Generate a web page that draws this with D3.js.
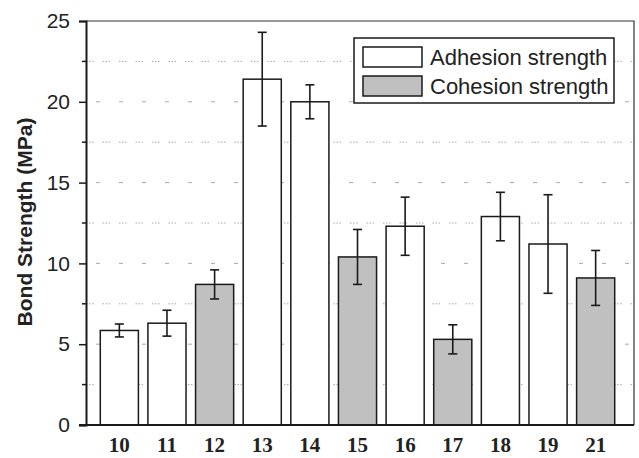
<!DOCTYPE html>
<html>
<head>
<meta charset="utf-8">
<script src="https://cdn.jsdelivr.net/npm/d3@7"></script>
<style>
  body { margin: 0; background: #fff; }
  svg { display: block; }
</style>
</head>
<body>
<svg width="639" height="458"></svg>
<script>
// samples on the x axis
var samples = ["10", "11", "12", "13", "14", "15", "16", "17", "18", "19", "21"];
// which kind of test each bar is
var kinds = ["adh", "adh", "coh", "adh", "adh", "coh", "adh", "coh", "adh", "adh", "coh"];
// mean bond strength (MPa)
var strength = [5.85, 6.3, 8.7, 21.4, 20.0, 10.4, 12.3, 5.3, 12.9, 11.2, 9.1];
// +/- error
var errors = [0.4, 0.8, 0.9, 2.9, 1.05, 1.7, 1.8, 0.9, 1.5, 3.05, 1.7];
var yTicks = [0, 5, 10, 15, 20, 25];
var legendLabels = ["Adhesion strength", "Cohesion strength"];

var svg = d3.select("svg"),
    pLeft = 86, pRight = 634, pTop = 21, pBottom = 425;

var y = d3.scaleLinear().domain([0, 25]).range([pBottom, pTop]);
var x = d3.scaleBand().domain(samples).range([pLeft, 629])
          .paddingInner(0.2).paddingOuter(0.3);
var fill = d3.scaleOrdinal().domain(["adh", "coh"]).range(["#ffffff", "#c0c0c0"]);

var data = samples.map(function(s, i) {
    return {s: s, kind: kinds[i], v: strength[i], e: errors[i]};
});

// grid lines
svg.append("g").selectAll("line")
    .data(d3.range(2.5, 25, 2.5))
    .enter().append("line")
    .attr("x1", pLeft).attr("x2", pRight)
    .attr("y1", function(d) { return y(d); })
    .attr("y2", function(d) { return y(d); })
    .attr("stroke", "#a8a8a8")
    .attr("stroke-width", 1)
    .attr("stroke-dasharray", function(d) { return d % 5 == 0 ? "4,19" : "1.5,1.5,1.5,1.5,1.5,9"; })
    .attr("stroke-dashoffset", function(d) { return d % 5 == 0 ? -10 : 0; });

// frame top / right
svg.append("path")
    .attr("d", "M" + pLeft + "," + pTop + "H" + pRight + "V" + pBottom)
    .attr("fill", "none").attr("stroke", "#333").attr("stroke-width", 1.2);

// bars
svg.append("g").selectAll("rect")
    .data(data)
    .enter().append("rect")
    .attr("x", function(d) { return x(d.s); })
    .attr("width", x.bandwidth())
    .attr("y", function(d) { return y(d.v); })
    .attr("height", function(d) { return pBottom - y(d.v); })
    .attr("fill", function(d) { return fill(d.kind); })
    .attr("stroke", "#1a1a1a")
    .attr("stroke-width", 1.5);

// error bars
var eb = svg.append("g").attr("stroke", "#1a1a1a").attr("stroke-width", 1.6)
    .selectAll("g").data(data).enter().append("g")
    .attr("transform", function(d) { return "translate(" + (x(d.s) + x.bandwidth() / 2) + ",0)"; });
eb.append("line")
    .attr("y1", function(d) { return y(d.v + d.e); })
    .attr("y2", function(d) { return y(d.v - d.e); });
eb.append("line").attr("x1", -4.5).attr("x2", 4.5)
    .attr("y1", function(d) { return y(d.v + d.e); })
    .attr("y2", function(d) { return y(d.v + d.e); });
eb.append("line").attr("x1", -4.5).attr("x2", 4.5)
    .attr("y1", function(d) { return y(d.v - d.e); })
    .attr("y2", function(d) { return y(d.v - d.e); });

// y axis
var yAxis = svg.append("g")
    .attr("transform", "translate(" + pLeft + ",0)")
    .call(d3.axisLeft(y).tickValues(yTicks).tickSize(7).tickPadding(9));
yAxis.select(".domain").attr("stroke", "#1a1a1a").attr("stroke-width", 2);
yAxis.selectAll(".tick line").attr("stroke", "#1a1a1a").attr("stroke-width", 1.5);
yAxis.selectAll(".tick text")
    .attr("font-family", "Liberation Sans, Arial, sans-serif")
    .attr("font-size", 21).attr("fill", "#222");

// minor y ticks
svg.append("g").selectAll("line")
    .data(d3.range(2.5, 25, 5))
    .enter().append("line")
    .attr("x1", pLeft - 4).attr("x2", pLeft)
    .attr("y1", function(d) { return y(d); })
    .attr("y2", function(d) { return y(d); })
    .attr("stroke", "#1a1a1a").attr("stroke-width", 1.5);

// x axis
var xAxis = svg.append("g")
    .attr("transform", "translate(0," + pBottom + ")")
    .call(d3.axisBottom(x).tickSize(0).tickPadding(0));
xAxis.select(".domain").remove();
svg.append("line")
    .attr("x1", pLeft - 7).attr("x2", pRight)
    .attr("y1", pBottom).attr("y2", pBottom)
    .attr("stroke", "#1a1a1a").attr("stroke-width", 2);
xAxis.selectAll(".tick text")
    .attr("font-family", "Liberation Serif, Times New Roman, serif")
    .attr("font-weight", "bold")
    .attr("font-size", 21).attr("fill", "#222")
    .attr("y", 27).attr("dy", null);

// y axis title
svg.append("text")
    .attr("transform", "translate(32," + 222 + ") rotate(-90)")
    .attr("text-anchor", "middle")
    .attr("font-family", "Liberation Sans, Arial, sans-serif")
    .attr("font-weight", "bold")
    .attr("font-size", 21).attr("fill", "#222")
    .text("Bond Strength (MPa)");

// legend
var lg = svg.append("g").attr("transform", "translate(354,38)");
lg.append("rect").attr("width", 260).attr("height", 65)
    .attr("fill", "#fff").attr("stroke", "#1a1a1a").attr("stroke-width", 1.5);
var items = lg.selectAll("g").data(legendLabels).enter().append("g")
    .attr("transform", function(d, i) { return "translate(9," + (9 + i * 29) + ")"; });
items.append("rect").attr("width", 59).attr("height", 20)
    .attr("fill", function(d, i) { return fill(["adh", "coh"][i]); })
    .attr("stroke", "#1a1a1a").attr("stroke-width", 1.5);
items.append("text")
    .attr("x", 67).attr("y", 18)
    .attr("font-family", "Liberation Sans, Arial, sans-serif")
    .attr("font-size", 22).attr("fill", "#222")
    .text(function(d) { return d; });
</script>
</body>
</html>
